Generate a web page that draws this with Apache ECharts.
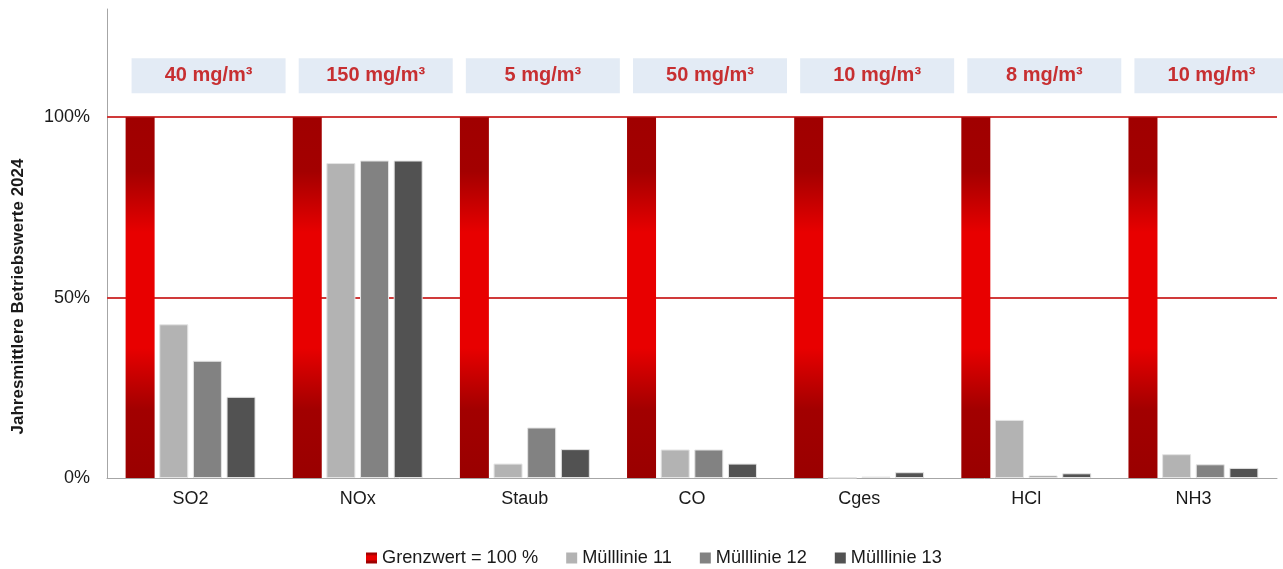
<!DOCTYPE html>
<html>
<head>
<meta charset="utf-8">
<script src="https://cdn.jsdelivr.net/npm/echarts@6/dist/echarts.min.js"></script>
<style>
  html, body { margin: 0; padding: 0; background: #fff; }
  #chart { width: 1283px; height: 569px; }
</style>
</head>
<body>
<div id="chart"></div>
<script>
// Emission components
const categories = ['SO2', 'NOx', 'Staub', 'CO', 'Cges', 'HCl', 'NH3'];
// Emission limit for each component (shown above the groups)
const limitLabels = ['40 mg/m³', '150 mg/m³', '5 mg/m³', '50 mg/m³', '10 mg/m³', '8 mg/m³', '10 mg/m³'];
// Limit value = 100 %
const grenzwert = [1, 1, 1, 1, 1, 1, 1];
// Annual mean operating values as share of the limit
const muelllinie11 = [0.426, 0.873, 0.040, 0.079, 0.001, 0.161, 0.066];
const muelllinie12 = [0.325, 0.880, 0.140, 0.079, 0.004, 0.007, 0.038];
const muelllinie13 = [0.225, 0.880, 0.080, 0.040, 0.016, 0.013, 0.028];
// Y axis ticks and reference lines
const yTicks = [0, 0.5, 1.0];
const refLines = [0.5, 1.0];
const yMax = 1.3;
// Height at which the limit boxes sit
const limitBoxLevel = 1.115;

const FONT = "'Liberation Sans', Arial, sans-serif";
const TEXT = '#1a1a1a';
const GRID_RED = '#d03a3a';

const redGradient = new echarts.graphic.LinearGradient(0, 0, 0, 1, [
  { offset: 0.00, color: '#a00000' },
  { offset: 0.15, color: '#a30000' },
  { offset: 0.32, color: '#e80000' },
  { offset: 0.64, color: '#e80000' },
  { offset: 0.81, color: '#a20000' },
  { offset: 1.00, color: '#9a0000' }
]);

const chart = echarts.init(document.getElementById('chart'), null, { renderer: 'canvas' });

const grayBar = (name, data, color) => ({
  name, type: 'bar', data, barWidth: 29, barGap: '16%', z: 3,
  itemStyle: { color, borderColor: '#e4e4e4', borderWidth: 1 }
});

const legendItem = (name, color) => ({ name, itemStyle: { color, borderWidth: 0 } });

chart.setOption({
  animation: false,
  textStyle: { fontFamily: FONT },
  grid: { left: 107, right: 6, top: 9, bottom: 91, containLabel: false },
  legend: {
    data: [
      legendItem('Grenzwert = 100 %', redGradient),
      legendItem('Mülllinie 11', '#b3b3b3'),
      legendItem('Mülllinie 12', '#828282'),
      legendItem('Mülllinie 13', '#525252')
    ],
    left: 361, top: 544,
    icon: 'rect', itemWidth: 11, itemHeight: 11, itemGap: 28,
    textStyle: { fontSize: 18.2, color: TEXT, fontFamily: FONT }
  },
  xAxis: {
    type: 'category',
    data: categories,
    axisLine: { lineStyle: { color: '#a6a6a6', width: 1 } },
    axisTick: { show: false },
    axisLabel: { fontSize: 18, color: TEXT, margin: 12, fontFamily: FONT }
  },
  yAxis: {
    type: 'value',
    min: 0, max: yMax, interval: 0.5,
    name: 'Jahresmittlere Betriebswerte 2024',
    nameLocation: 'middle',
    nameGap: 80,
    nameTextStyle: { fontSize: 17, fontWeight: 'bold', color: TEXT, fontFamily: FONT, padding: [0, 106, 0, 0] },
    axisLine: { show: true, lineStyle: { color: '#a6a6a6', width: 1 } },
    axisTick: { show: false },
    axisLabel: {
      fontSize: 18, color: TEXT, margin: 17, fontFamily: FONT,
      formatter: v => yTicks.some(t => Math.abs(t - v) < 1e-9) ? Math.round(v * 100) + '%' : ''
    },
    splitLine: { show: false }
  },
  series: [
    {
      name: 'Grenzwert = 100 %', type: 'bar', data: grenzwert,
      barWidth: 29, barGap: '16%', z: 3,
      itemStyle: { color: redGradient },
      markLine: {
        silent: true, symbol: 'none', z: 1,
        label: { show: false },
        lineStyle: { color: GRID_RED, width: 2, type: 'solid' },
        emphasis: { disabled: true },
        data: refLines.map(v => ({ yAxis: v }))
      }
    },
    grayBar('Mülllinie 11', muelllinie11, '#b3b3b3'),
    grayBar('Mülllinie 12', muelllinie12, '#828282'),
    grayBar('Mülllinie 13', muelllinie13, '#525252'),
    {
      name: 'Grenzwerte', type: 'scatter',
      data: categories.map(() => limitBoxLevel),
      symbolSize: 0, silent: true, z: 5,
      label: {
        show: true, position: 'inside', offset: [18, 0],
        formatter: p => limitLabels[p.dataIndex],
        width: 154, height: 35, lineHeight: 35,
        align: 'center', verticalAlign: 'middle',
        backgroundColor: '#dce6f2',
        color: '#c00000', fontSize: 20, fontWeight: 'bold', fontFamily: FONT
      }
    }
  ]
});
</script>
</body>
</html>
